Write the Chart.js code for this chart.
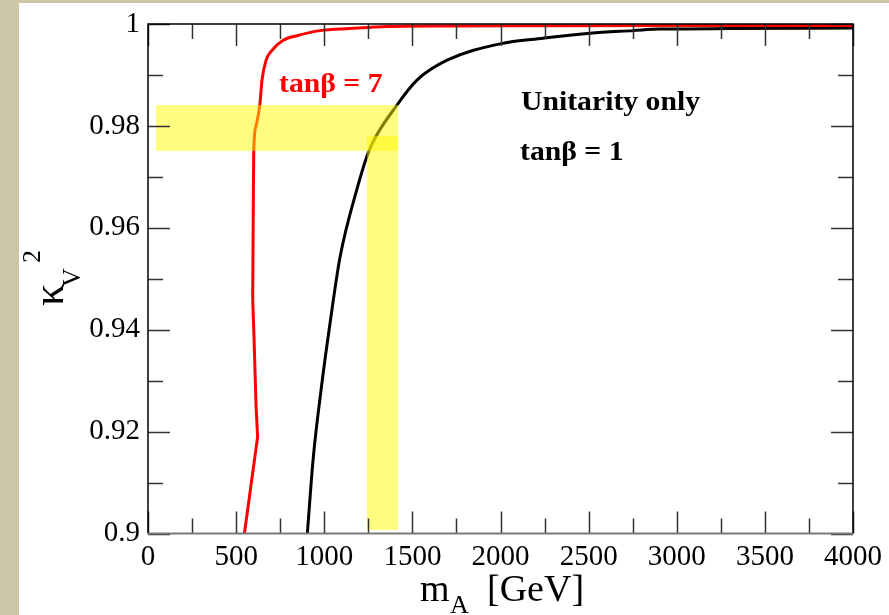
<!DOCTYPE html>
<html>
<head>
<meta charset="utf-8">
<script src="https://cdn.jsdelivr.net/npm/chart.js@4.4.0/dist/chart.umd.min.js"></script>
<style>
  html, body { margin: 0; padding: 0; background: #cdc7a7; }
  #panel { position: absolute; left: 19px; top: 3px; width: 870px; height: 612px; background: #fff; }
  canvas { display: block; }
</style>
</head>
<body>
<div id="panel"><canvas id="kv" width="870" height="612"></canvas></div>
<script>
// kappa_V^2 vs m_A, unitarity bound only
const massTan7 = [547, 622, 613, 602, 594, 598, 600, 613, 634, 647, 670, 703, 767, 845, 976, 1146, 1356, 1700, 2200, 3000, 4000];
const kvTan7   = [0.900, 0.919, 0.925, 0.938, 0.946, 0.967, 0.975, 0.980, 0.984, 0.989, 0.9929, 0.9948, 0.9968, 0.9977, 0.9987, 0.9991, 0.9995, 0.9996, 0.99965, 0.9997, 0.9997];

const massTan1 = [904, 938, 982, 1033, 1090, 1184, 1256, 1413, 1526, 1697, 1998, 2242, 2508, 2752, 2906, 3300, 4000];
const kvTan1   = [0.900, 0.915, 0.9282, 0.9413, 0.9543, 0.9674, 0.9753, 0.9841, 0.989, 0.9929, 0.9961, 0.9972, 0.9982, 0.9987, 0.999, 0.9991, 0.9992];

// highlighted windows: [mA from, mA to], [kV2 from, kV2 to]
const bandMass = [[45, 1419], [1243, 1419]];
const bandKv   = [[0.9751, 0.9841], [0.9007, 0.978]];

const xTicks = [0, 500, 1000, 1500, 2000, 2500, 3000, 3500, 4000];
const yTicks = [0.9, 0.92, 0.94, 0.96, 0.98, 1];

const serif = '"Liberation Serif", "Times New Roman", serif';

const toPoints = (xs, ys) => xs.map((x, i) => ({ x: x, y: ys[i] }));

// the tanb=7 curve turns back in mA at the bottom, so the straight
// lower part and the smooth upper part are drawn separately
const SPLIT = 4;
const tan7Lower = toPoints(massTan7, kvTan7).slice(0, SPLIT + 1);
const tan7Upper = toPoints(massTan7, kvTan7).slice(SPLIT);

function stretchText(ctx, str, x, y, sx) {
  ctx.save();
  ctx.translate(x, y);
  ctx.scale(sx, 1);
  ctx.fillText(str, 0, 0);
  ctx.restore();
}

const bands = {
  id: "bands",
  afterDatasetsDraw(chart) {
    const { ctx, scales: { x, y } } = chart;
    ctx.save();
    ctx.fillStyle = "rgba(255, 250, 0, 0.5)";
    bandMass.forEach((m, i) => {
      const x0 = x.getPixelForValue(m[0]), x1 = x.getPixelForValue(m[1]);
      const y0 = y.getPixelForValue(bandKv[i][1]), y1 = y.getPixelForValue(bandKv[i][0]);
      ctx.fillRect(x0, y0, x1 - x0, y1 - y0);
    });
    ctx.restore();
  }
};

const frame = {
  id: "frame",
  afterDraw(chart) {
    const { ctx, chartArea: a, scales: { x, y } } = chart;
    ctx.save();
    // inward ticks on all four sides
    ctx.strokeStyle = "#333";
    ctx.lineWidth = 1.5;
    ctx.beginPath();
    for (let v = 0; v <= 4000; v += 250) {
      const px = Math.round(x.getPixelForValue(v)) + 0.5;
      const len = v % 500 === 0 ? 22 : 15;
      ctx.moveTo(px, a.bottom); ctx.lineTo(px, a.bottom - len);
      ctx.moveTo(px, a.top); ctx.lineTo(px, a.top + len);
    }
    for (let k = 0; k <= 10; k++) {
      const py = Math.round(y.getPixelForValue(0.9 + k * 0.01)) + 0.5;
      const len = k % 2 === 0 ? 22 : 15;
      ctx.moveTo(a.left, py); ctx.lineTo(a.left + len, py);
      ctx.moveTo(a.right, py); ctx.lineTo(a.right - len, py);
    }
    ctx.stroke();

    ctx.strokeStyle = "#000";
    ctx.lineWidth = 1.5;
    ctx.beginPath();
    ctx.moveTo(a.left, a.bottom); ctx.lineTo(a.left, a.top);
    ctx.lineTo(a.right, a.top); ctx.lineTo(a.right, a.bottom);
    ctx.stroke();
    ctx.strokeStyle = "#7a7a7a";
    ctx.lineWidth = 2;
    ctx.beginPath();
    ctx.moveTo(a.left, a.bottom); ctx.lineTo(a.right, a.bottom);
    ctx.stroke();

    // axis titles
    ctx.fillStyle = "#000";
    ctx.textAlign = "left";
    ctx.textBaseline = "alphabetic";
    ctx.font = "38px " + serif;
    ctx.fillText("m", 401, 598);
    ctx.fillText("[GeV]", 468, 598);
    ctx.font = "26px " + serif;
    ctx.fillText("A", 431, 610);

    ctx.save();
    ctx.rotate(-Math.PI / 2);
    ctx.font = "44px " + serif;
    ctx.fillText("κ", -303, 44);
    ctx.font = "26px " + serif;
    ctx.fillText("V", -284, 61);
    ctx.fillText("2", -260, 21);
    ctx.restore();

    // curve labels
    ctx.font = "bold 27px " + serif;
    ctx.fillStyle = "#ff0000";
    stretchText(ctx, "tanβ = 7", 260, 89, 1.1);
    ctx.fillStyle = "#000";
    stretchText(ctx, "Unitarity only", 502, 107, 1.1);
    stretchText(ctx, "tanβ = 1", 501, 157, 1.1);
    ctx.restore();
  }
};

const noPad = s => { s.paddingTop = 0; s.paddingBottom = 0; s.paddingLeft = 0; s.paddingRight = 0; };

new Chart(document.getElementById("kv").getContext("2d"), {
  type: "line",
  data: {
    datasets: [
      {
        label: "tanβ = 7",
        data: tan7Upper,
        borderColor: "#ff0000",
        borderWidth: 3,
        pointRadius: 0,
        cubicInterpolationMode: "monotone"
      },
      {
        label: "tanβ = 7 (low)",
        data: tan7Lower,
        borderColor: "#ff0000",
        borderWidth: 3,
        pointRadius: 0,
        tension: 0
      },
      {
        label: "tanβ = 1",
        data: toPoints(massTan1, kvTan1),
        borderColor: "#000000",
        borderWidth: 3,
        pointRadius: 0,
        cubicInterpolationMode: "monotone"
      }
    ]
  },
  options: {
    responsive: false,
    animation: false,
    layout: { padding: { top: 21, right: 36, left: 0, bottom: 0 } },
    plugins: { legend: { display: false }, tooltip: { enabled: false } },
    scales: {
      x: {
        type: "linear",
        min: 0,
        max: 4000,
        afterFit: s => { s.height = 81.5; noPad(s); },
        afterBuildTicks: s => { s.ticks = xTicks.map(v => ({ value: v })); },
        grid: { display: false, drawTicks: false },
        border: { display: false },
        ticks: {
          padding: 6,
          color: "#000",
          maxRotation: 0,
          autoSkip: false,
          font: { family: serif, size: 29 },
          callback: v => String(v)
        }
      },
      y: {
        type: "linear",
        min: 0.9,
        max: 1,
        afterFit: s => { s.width = 129; noPad(s); },
        afterBuildTicks: s => { s.ticks = yTicks.map(v => ({ value: v })); },
        grid: { display: false, drawTicks: false },
        border: { display: false },
        ticks: {
          padding: 8,
          color: "#000",
          autoSkip: false,
          font: { family: serif, size: 29 },
          callback: v => String(+v.toFixed(2))
        }
      }
    }
  },
  plugins: [bands, frame]
});
</script>
</body>
</html>
